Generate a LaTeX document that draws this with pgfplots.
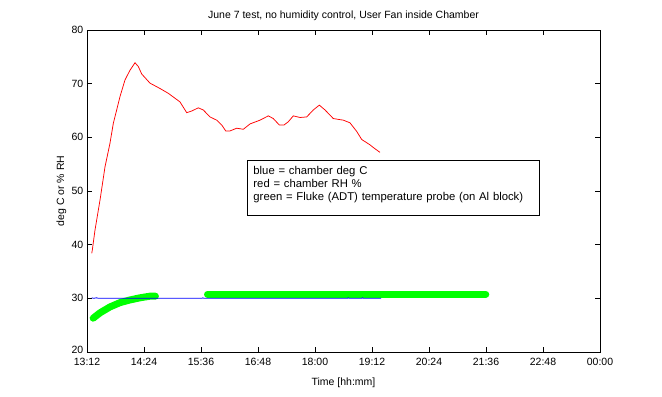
\documentclass[border=0pt]{standalone}
\usepackage{fontspec}
\setmainfont{Liberation Sans}
\usepackage{pgfplots}
\pgfplotsset{compat=1.18}
\begin{document}
\fontsize{10.5bp}{13bp}\selectfont
\begin{tikzpicture}
\path (-87bp,-45bp) rectangle (575bp,352bp);
\begin{axis}[
 scale only axis, width=513bp, height=322bp,
 xmin=13.2, xmax=24, ymin=20, ymax=80,
 xtick={13.2,14.4,15.6,16.8,18,19.2,20.4,21.6,22.8,24},
 xticklabels={13:12,14:24,15:36,16:48,18:00,19:12,20:24,21:36,22:48,00:00},
 ytick={30,40,50,60,70,80},
 extra y ticks={20},
 extra y tick style={yticklabel style={yshift=2.5bp}},
 tick align=inside, major tick length=5bp,
 /pgf/number format/assume math mode=true,
 tick label style={font=\fontsize{10.5bp}{13bp}\selectfont},
 xticklabel style={yshift=-2bp},
 label style={font=\fontsize{10.5bp}{13bp}\selectfont},
 title style={font=\fontsize{10.5bp}{13bp}\selectfont, yshift=0bp},
 axis line style={line width=0.8bp},
 every tick/.style={black, line width=0.8bp},
 title={June 7 test, no humidity control, User Fan inside Chamber},
 xlabel={Time [hh:mm]},
 ylabel={deg C or \% RH},
 xlabel style={yshift=-6bp},
 ylabel style={yshift=-2bp},
 clip=false,
]
% green: Fluke probe
\addplot[color={rgb,255:red,0;green,255;blue,0}, line width=7bp, line cap=round, line join=round] coordinates {
(13.33,26.3) (13.474,27.3) (13.684,28.4) (13.895,29.2) (14.105,29.7) (14.316,30.1) (14.526,30.4) (14.64,30.4)
};
\addplot[color={rgb,255:red,0;green,255;blue,0}, line width=7bp, line cap=round] coordinates {
(15.737,30.75) (17.0,30.75) (18.5,30.75) (20.0,30.75) (21.595,30.75)
};
% blue: chamber deg C
\addplot[blue, line width=0.8bp] coordinates {
(13.30,30.1) (13.34,30.0) (13.40,30.1) (13.44,30.0) (15.62,30.0) (15.64,30.1) (15.66,30.0) (18.68,30.0) (18.70,30.1) (18.72,30.0) (18.98,30.0) (19.0,30.1) (19.02,30.0) (19.39,30.0)
};
% red: chamber RH
\addplot[red, line width=0.75bp] coordinates {
(13.300,38.4) (13.312,39.0) (13.368,42.7) (13.474,48.3) (13.579,54.5) (13.684,58.9) (13.754,62.6) (13.825,65.1) (13.895,67.6) (14.0,70.7) (14.105,72.5) (14.211,73.9) (14.28,73.2) (14.352,71.8) (14.526,70.1) (14.737,69.1) (14.912,68.2) (15.158,66.6) (15.299,64.6) (15.404,64.9) (15.543,65.5) (15.648,65.1) (15.789,63.8) (15.931,63.2) (16.036,62.3) (16.12,61.2) (16.211,61.2) (16.352,61.7) (16.491,61.5) (16.632,62.5) (16.842,63.2) (17.017,64.0) (17.122,63.5) (17.249,62.3) (17.347,62.3) (17.438,62.9) (17.543,64.0) (17.684,63.7) (17.825,63.8) (17.964,65.1) (18.091,66.0) (18.211,65.1) (18.385,63.5) (18.596,63.2) (18.737,62.7) (18.878,61.1) (18.983,59.6) (19.158,58.6) (19.228,58.1) (19.368,57.2)
};
\node[draw, line width=0.8bp, anchor=north west, align=left, inner xsep=6bp, inner ysep=6bp, text width=280bp, font=\fontsize{11.3bp}{13bp}\selectfont] at (rel axis cs:0.312,0.596) {blue = chamber deg C\\red = chamber RH \%\\green = Fluke (ADT) temperature probe (on Al block)\raisebox{0pt}[0pt][9bp]{}};
\end{axis}
\end{tikzpicture}
\end{document}
